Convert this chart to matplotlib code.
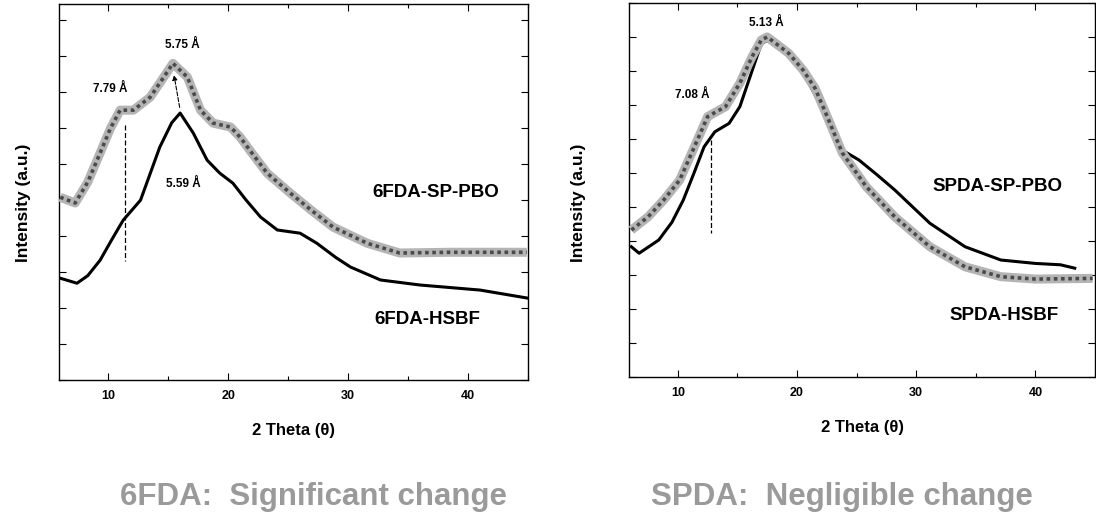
import numpy as np
import matplotlib
matplotlib.use('Agg')
import matplotlib.pyplot as plt
from matplotlib.ticker import MultipleLocator

plt.rcParams['font.family'] = ['Liberation Sans', 'DejaVu Sans']

# ---- 6FDA panel ----
fdA_pbo_x = [6.0, 7.25, 8.3, 9.33, 10.2, 11.0, 12.1, 13.5, 14.5, 15.4, 16.6, 17.7, 18.75,
             20.2, 21.0, 22.0, 23.25, 25.2, 27.0, 28.75, 31.6, 34.3, 38.5, 44.9]
fdA_pbo_y = [5.08, 4.92, 5.5, 6.31, 7.0, 7.5, 7.5, 7.86, 8.35, 8.8, 8.42, 7.5, 7.14,
             7.03, 6.75, 6.3, 5.75, 5.19, 4.7, 4.25, 3.8, 3.53, 3.55, 3.55]

fdA_hsbf_x = [6.0, 7.4, 8.3, 9.33, 10.3, 11.25, 12.7, 14.3, 15.3, 16.0, 17.1, 18.25, 19.3,
              20.4, 21.5, 22.7, 24.1, 26.0, 27.4, 29.0, 30.2, 32.7, 36.0, 41.0, 44.9]
fdA_hsbf_y = [2.83, 2.69, 2.9, 3.33, 3.9, 4.44, 5.0, 6.47, 7.15, 7.42, 6.86, 6.11, 5.75,
              5.47, 5.0, 4.53, 4.17, 4.08, 3.8, 3.4, 3.14, 2.78, 2.64, 2.5, 2.28]

# ---- SPDA panel ----
spda_gray_x = [6.1, 7.5, 8.8, 10.15, 11.3, 12.5, 14.0, 15.2, 16.2, 17.0, 17.5, 19.3,
               20.5, 21.5, 22.3, 23.8, 25.8, 28.2, 31.15, 34.1, 37.1, 40.0, 44.8]
spda_gray_y = [4.32, 4.71, 5.2, 5.79, 6.7, 7.66, 7.95, 8.64, 9.4, 9.91, 10.0, 9.52,
               9.03, 8.5, 7.85, 6.59, 5.6, 4.71, 3.83, 3.24, 2.95, 2.88, 2.9]

spda_black_x = [6.1, 6.75, 8.4, 9.5, 10.45, 11.3, 12.2, 13.1, 14.3, 15.2, 17.0, 17.5,
                19.3, 20.5, 22.3, 23.75, 25.2, 26.7, 28.2, 31.15, 34.1, 37.1, 40.0,
                42.1, 43.3]
spda_black_y = [3.83, 3.64, 4.03, 4.55, 5.2, 5.95, 6.77, 7.21, 7.46, 7.95, 9.8, 9.9,
                9.45, 8.95, 7.8, 6.68, 6.38, 5.95, 5.5, 4.52, 3.83, 3.44, 3.34, 3.3, 3.2]

xticks = [10, 20, 30, 40]


def hatched(ax, x, y):
    # thick grey band with a dotted checker on top
    ax.plot(x, y, color='#b4b4b4', lw=6.5, solid_capstyle='butt', zorder=3)
    ax.plot(x, y, color='#4a4a4a', lw=2.6, ls=(0, (1, 1)), zorder=4)


def style_axes(ax, ymax):
    ax.set_xlim(5.9, 45.0)
    ax.set_ylim(0, ymax)
    ax.set_xticks(xticks)
    ax.xaxis.set_minor_locator(MultipleLocator(5))
    ax.yaxis.set_major_locator(MultipleLocator(1))
    ax.tick_params(which='both', direction='in', top=True, right=True, width=0.8)
    ax.tick_params(which='major', length=5)
    ax.tick_params(which='minor', length=3)
    ax.tick_params(axis='y', labelleft=False)
    ax.tick_params(axis='x', labelsize=9, pad=7)
    for lab in ax.get_xticklabels():
        lab.set_fontweight('bold')
    for sp in ax.spines.values():
        sp.set_linestyle((0, (3, 1)))
        sp.set_linewidth(1.0)
    ax.set_xlabel('2 Theta (\u03b8)', fontsize=12, fontweight='bold', labelpad=15)


fig = plt.figure(figsize=(10.96, 5.21), dpi=100)
ax1 = fig.add_axes([0.0538, 0.2706, 0.428, 0.7217])
ax2 = fig.add_axes([0.5739, 0.2764, 0.4252, 0.7179])

# left panel
hatched(ax1, fdA_pbo_x, fdA_pbo_y)
ax1.plot(fdA_hsbf_x, fdA_hsbf_y, color='black', lw=2.2, zorder=5)
ax1.plot([11.4, 11.4], [7.1, 3.3], color='black', lw=0.9, ls=(0, (4, 2)), zorder=6)
ax1.annotate('', xy=(15.45, 8.55), xytext=(16.0, 7.5),
             arrowprops=dict(arrowstyle='-|>', lw=0.8, ls='--', color='black',
                             mutation_scale=7))
ax1.text(10.2, 8.1, '7.79 \u00c5', fontsize=8.5, fontweight='bold', ha='center', va='center')
ax1.text(16.2, 9.3, '5.75 \u00c5', fontsize=8.5, fontweight='bold', ha='center', va='center')
ax1.text(16.3, 5.45, '5.59 \u00c5', fontsize=8.5, fontweight='bold', ha='center', va='center')
ax1.text(37.3, 5.2, '6FDA-SP-PBO', fontsize=13.5, fontweight='bold', ha='center', va='center')
ax1.text(36.6, 1.67, '6FDA-HSBF', fontsize=13.5, fontweight='bold', ha='center', va='center')
style_axes(ax1, 10.45)

# right panel
ax2.plot(spda_black_x, spda_black_y, color='black', lw=2.2, zorder=2)
hatched(ax2, spda_gray_x, spda_gray_y)
ax2.plot([12.8, 12.8], [6.97, 4.23], color='black', lw=0.9, ls=(0, (4, 2)), zorder=6)
ax2.text(11.2, 8.3, '7.08 \u00c5', fontsize=8.5, fontweight='bold', ha='center', va='center')
ax2.text(17.4, 10.4, '5.13 \u00c5', fontsize=8.5, fontweight='bold', ha='center', va='center')
ax2.text(36.8, 5.6, 'SPDA-SP-PBO', fontsize=13.5, fontweight='bold', ha='center', va='center')
ax2.text(37.4, 1.82, 'SPDA-HSBF', fontsize=13.5, fontweight='bold', ha='center', va='center')
style_axes(ax2, 11.0)

fig.text(0.021, 0.61, 'Intensity (a.u.)', rotation=90, fontsize=12.5, fontweight='bold',
         ha='center', va='center')
fig.text(0.528, 0.61, 'Intensity (a.u.)', rotation=90, fontsize=12.5, fontweight='bold',
         ha='center', va='center')

fig.text(0.286, 0.046, '6FDA:  Significant change', fontsize=22.5, fontweight='bold',
         color='#9a9a9a', ha='center', va='center')
fig.text(0.768, 0.046, 'SPDA:  Negligible change', fontsize=22.5, fontweight='bold',
         color='#9a9a9a', ha='center', va='center')

fig.savefig('out.png', dpi=100)
